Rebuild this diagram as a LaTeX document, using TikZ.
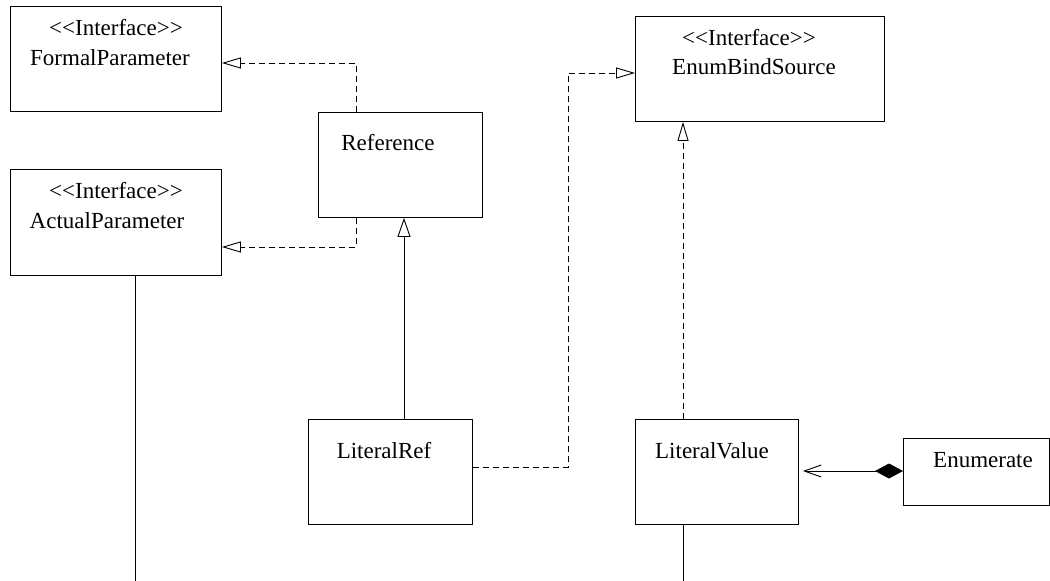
\documentclass[tikz,border=0pt]{standalone}
\usepackage{fontspec}
\setmainfont{Liberation Serif}
\usetikzlibrary{arrows.meta}
\newcommand\ltlt{<\kern0pt<}
\newcommand\gtgt{>\kern0pt>}
\begin{document}
\begin{tikzpicture}[x=1pt,y=-1pt,
  umlbox/.style={draw, line width=0.9pt, inner sep=0pt, anchor=north west},
  lbl/.style={font=\fontsize{23}{27}\selectfont, anchor=base, inner sep=0pt},
  real/.style={line width=0.9pt, dash pattern=on 6pt off 4pt, -{Triangle[open,length=19pt,width=11pt]}},
  inh/.style={line width=0.9pt, -{Triangle[open,length=19pt,width=13pt]}},
  comp/.style={line width=0.9pt, {Diamond[length=28pt,width=15pt]}-{Straight Barb[length=17pt,width=12pt]}, shorten >=4pt},
  plain/.style={line width=0.9pt}]
\useasboundingbox (0,0) rectangle (1050,581);
\clip (0,0) rectangle (1050,581);

% boxes
\node[umlbox, minimum width=211pt, minimum height=105pt] (fp) at (10,6) {};
\node[umlbox, minimum width=211pt, minimum height=106pt] (ap) at (10,169) {};
\node[umlbox, minimum width=164pt, minimum height=105pt] (ref) at (318,112) {};
\node[umlbox, minimum width=249pt, minimum height=105pt] (ebs) at (635,16) {};
\node[umlbox, minimum width=164pt, minimum height=105pt] (lref) at (308,419) {};
\node[umlbox, minimum width=163pt, minimum height=105pt] (lval) at (635,419) {};
\node[umlbox, minimum width=146pt, minimum height=67pt] (enum) at (903,438) {};

% labels
\node[lbl] (fpst) at (116,35) {\ltlt Interface\gtgt};
\node[lbl] (fpname) at (110,65) {FormalParameter};
\node[lbl] (apst) at (116,198) {\ltlt Interface\gtgt};
\node[lbl] (apname) at (107,228) {ActualParameter};
\node[lbl] (refname) at (388,150) {Reference};
\node[lbl] (ebsst) at (749,45) {\ltlt Interface\gtgt};
\node[lbl] (ebsname) at (754,74) {EnumBindSource};
\node[lbl] (lrefname) at (384,458) {LiteralRef};
\node[lbl] (lvalname) at (712,458) {LiteralValue};
\node[lbl] (enumname) at (983,467) {Enumerate};

% bend points
\coordinate (c1) at (356,63);
\coordinate (c2) at (356,247);
\coordinate (c3) at (404,0);
\coordinate (c4) at (568,467);
\coordinate (c5) at (568,73);
\coordinate (c6) at (683,0);
\coordinate (c7) at (0,471);
\coordinate (e1) at (135,581);
\coordinate (e2) at (683,581);

% connectors
\draw[real] (c1 |- ref.north) -- (c1) -- (c1 -| fp.east);
\draw[real] (c2 |- ref.south) -- (c2) -- (c2 -| ap.east);
\draw[inh] (c3 |- lref.north) -- (c3 |- ref.south);
\draw[real] (c4 -| lref.east) -- (c4) -- (c5) -- (c5 -| ebs.west);
\draw[real] (c6 |- lval.north) -- (c6 |- ebs.south);
\draw[comp] (c7 -| enum.west) -- (c7 -| lval.east);
\draw[plain] (e1 |- ap.south) -- (e1);
\draw[plain] (e2 |- lval.south) -- (e2);
\end{tikzpicture}
\end{document}
